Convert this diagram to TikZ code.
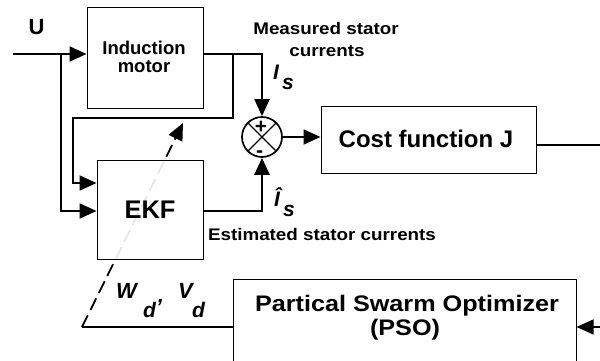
\documentclass[tikz,border=0pt]{standalone}
\usepackage{fontspec}
\setmainfont{Liberation Sans}
\newfontfamily\widefont[FakeStretch=1.12]{Liberation Sans}
\usetikzlibrary{arrows.meta,calc}
\newcommand{\myfs}[1]{\fontsize{#1}{#1}\selectfont}
\tikzset{
  blk/.style={draw, line width=1pt, inner sep=0pt},
  wire/.style={line width=2pt},
  thinwire/.style={line width=1.3pt},
  arr/.style={-{Triangle[length=17pt,width=15pt]}},
  lbl/.style={inner sep=0pt, anchor=base},
  bigtxt/.style={lbl, font=\bfseries\myfs{24}},
  smalltxt/.style={lbl, font=\widefont\bfseries\myfs{16.8}},
  sym/.style={inner sep=0pt, anchor=base west, font=\bfseries\itshape\myfs{21}},
}
\begin{document}
\begin{tikzpicture}[x=1pt,y=-1pt]
\useasboundingbox (0,0) rectangle (600,361);

% blocks
\node[blk, minimum width=116pt, minimum height=100pt] (motor) at (145,58) {};
\node[lbl, font=\bfseries\myfs{18.5}] (motortxt1) at (144,55) {Induction};
\node[lbl, font=\bfseries\myfs{18.5}] (motortxt2) at (144,73) {motor};

\node[blk, minimum width=215pt, minimum height=67pt] (cost) at (428.5,139.5) {};
\node[bigtxt] (costtxt) at (426,147.5) {Cost function J};

\node[blk, minimum width=343pt, minimum height=96pt] (pso) at (404.5,327) {};
\node[lbl, font=\widefont\bfseries\myfs{22.5}] (psotxt1) at (407,311) {Partical Swarm Optimizer};
\node[lbl, font=\widefont\bfseries\myfs{22.5}] (psotxt2) at (405,335) {(PSO)};

% PSO -> dashed parameter arrow through EKF
\coordinate (dstart) at (82,327);
\coordinate (dtip) at (183,123);
\draw[wire] (pso.west) -- (dstart);
\draw[line width=1.8pt, dash pattern=on 13pt off 6pt, arr] (dstart) -- (dtip);

\node[blk, fill=white, fill opacity=0.9, text opacity=1, minimum width=106pt, minimum height=99pt] (ekf) at (150,209.5) {};
\node[lbl, font=\bfseries\myfs{25.5}] (ekftxt) at (150,218.5) {EKF};

% summing junction
\node[draw, circle, line width=1.7pt, minimum size=40pt, inner sep=0pt] (sum) at (262,137) {};
\draw[line width=1.4pt] (sum.north west) -- (sum.south east);
\draw[line width=1.4pt] (sum.north east) -- (sum.south west);
\node[lbl, font=\bfseries\myfs{21}] (plus) at (261,133) {+};
\node[lbl, font=\bfseries\myfs{21}] (minus) at (259.5,157) {-};

% wires
\coordinate (uin) at (13,54);
\coordinate (tapa) at (61,54);
\coordinate (tapb) at (233,54);
\draw[wire, arr] (uin) -- (uin -| motor.west);
\draw[wire, arr] (tapa) |- (ekf.west |- 0,211);
\draw[wire, arr] (motor.east |- 0,54) -| (sum.north);
\draw[wire, arr] (tapb) |- (73,118) |- (ekf.west |- 0,183);
\draw[line width=2.6pt, arr] (ekf.east |- 0,211) -| (sum.south);
\draw[wire, arr] (sum.east) -- (sum.east -| cost.west);
\draw[thinwire, arr] ($(cost.east)+(0,5.5)$) -- ++(80,0) |- (pso.east);

% labels
\node[lbl, font=\bfseries\myfs{22}] (u) at (36.5,35) {U};
\node[smalltxt] (meas1) at (326,35) {Measured stator};
\node[smalltxt] (meas2) at (327,57) {currents};
\node[smalltxt] (est) at (322,240) {Estimated stator currents};

\node[sym] (im) at (273,80) {I};
\node[sym] (ims) at (282,90) {s};
\node[sym] (ie) at (274,206) {\^{I}};
\node[sym] (ies) at (283,216) {s};

\node[sym, font=\bfseries\itshape\myfs{22}] (w) at (116,298) {W};
\node[sym, font=\bfseries\itshape\myfs{21}] (wd) at (143,317) {d};
\node[sym, font=\bfseries\itshape\myfs{21}] (comma) at (158,302) {,};
\node[sym, font=\bfseries\itshape\myfs{22}] (v) at (178,298) {V};
\node[sym, font=\bfseries\itshape\myfs{21}] (vd) at (192,317) {d};
\end{tikzpicture}
\end{document}
